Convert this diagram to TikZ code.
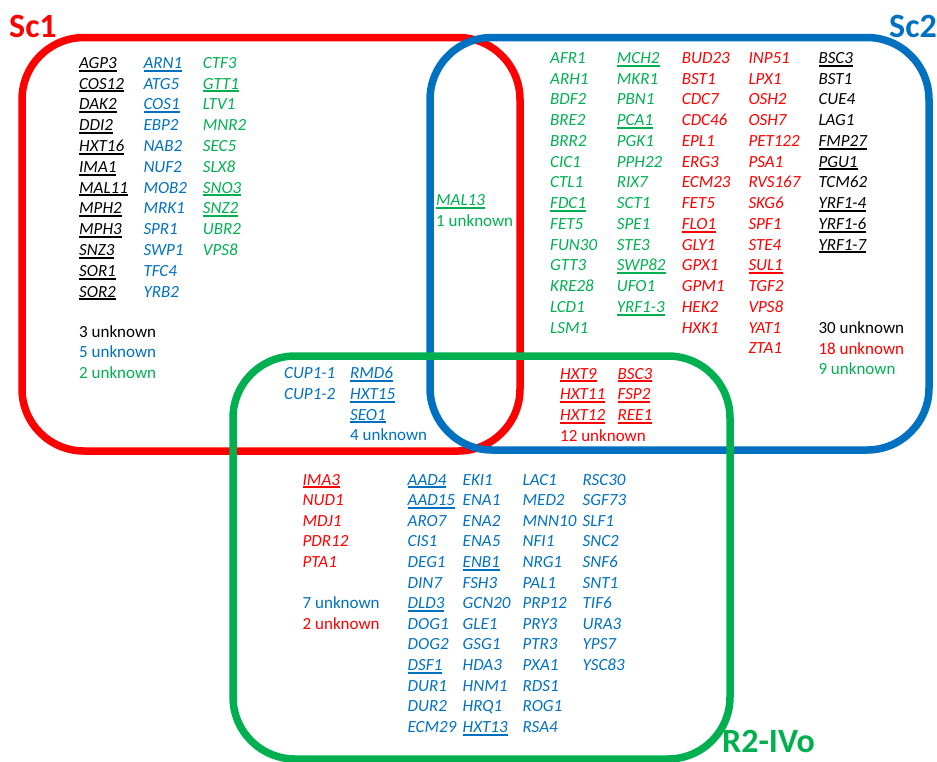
\documentclass[tikz,border=0pt]{standalone}
\usepackage{fontspec}
\setmainfont{Carlito}

\definecolor{vred}{HTML}{FF0000}
\definecolor{vblue}{HTML}{0070C0}
\definecolor{vgreen}{HTML}{00B050}

% underlined gene name: rule in the current text colour
\newcommand\ugene[1]{\setbox0=\hbox{#1}\rlap{\rule[-3.3pt]{\wd0}{2pt}}\box0}

\tikzset{
  setbox/.style={line width=7.5pt, rounded corners=62pt},
  gene/.style={anchor=base west, inner sep=0pt, font=\fontsize{17}{20}\selectfont\itshape},
  unk/.style={anchor=base west, inner sep=0pt, font=\fontsize{17}{20}\selectfont},
  settitle/.style={anchor=base west, inner sep=0pt, font=\fontsize{34}{40}\selectfont\bfseries},
}

% #1 name prefix, #2 colour, #3 x, #4 first baseline, #5 row step, #6 genes
\newcommand\genecol[6]{%
  \foreach \g [count=\i] in {#6} {
    \node[gene, text=#2] (#1-\i) at ({#3},{#4+(\i-1)*#5}) {\g};
  }}

\begin{document}
\begin{tikzpicture}[x=1pt,y=-1pt]
\useasboundingbox (0,0) rectangle (937,761);

% the three sets
\begin{scope}
\clip (0,0) rectangle (937,761);
\draw[setbox, vred]   (22,37.5) rectangle (520,451);
\draw[setbox, vblue]  (430,37.5) rectangle (929,450);
\draw[setbox, vgreen] (233,356) rectangle (730,759);
\end{scope}

% set titles
\node[settitle, text=vred]   (tsc1) at (9,37) {Sc1};
\node[settitle, text=vblue]  (tsc2) at (889,37) {Sc2};
\node[settitle, text=vgreen] (tr2)  at (722,752) {R2-IVo};

% Sc1 only
\genecol{sa}{black}{79}{68.3}{20.8}{\ugene{AGP3},\ugene{COS12},\ugene{DAK2},\ugene{DDI2},\ugene{HXT16},\ugene{IMA1},\ugene{MAL11},\ugene{MPH2},\ugene{MPH3},\ugene{SNZ3},\ugene{SOR1},\ugene{SOR2}}
\genecol{sb}{vblue}{143.3}{68.3}{20.8}{\ugene{ARN1},ATG5,\ugene{COS1},EBP2,NAB2,NUF2,MOB2,MRK1,SPR1,SWP1,TFC4,YRB2}
\genecol{sc}{vgreen}{202.7}{68.3}{20.8}{CTF3,\ugene{GTT1},LTV1,MNR2,SEC5,SLX8,\ugene{SNO3},\ugene{SNZ2},UBR2,VPS8}
\node[unk, text=black]  (sau) at (79,337)   {3 unknown};
\node[unk, text=vblue]  (sbu) at (79,357.6) {5 unknown};
\node[unk, text=vgreen] (scu) at (79,378.2) {2 unknown};

% Sc1 and Sc2
\node[gene, text=vgreen] (mal13) at (436,205.5) {\ugene{MAL13}};
\node[unk, text=vgreen]  (abu)   at (436,226)   {1 unknown};

% Sc2 only
\genecol{ga}{vgreen}{550}{63.3}{20.75}{AFR1,ARH1,BDF2,BRE2,BRR2,CIC1,CTL1,\ugene{FDC1},FET5,FUN30,GTT3,KRE28,LCD1,LSM1}
\genecol{gb}{vgreen}{616.7}{63.3}{20.75}{\ugene{MCH2},MKR1,PBN1,\ugene{PCA1},PGK1,PPH22,RIX7,SCT1,SPE1,STE3,\ugene{SWP82},UFO1,\ugene{YRF1-3}}
\genecol{ra}{vred}{681.7}{63.3}{20.75}{BUD23,BST1,CDC7,CDC46,EPL1,ERG3,ECM23,FET5,\ugene{FLO1},GLY1,GPX1,GPM1,HEK2,HXK1}
\genecol{rb}{vred}{748.3}{63.3}{20.75}{INP51,LPX1,OSH2,OSH7,PET122,PSA1,RVS167,SKG6,SPF1,STE4,\ugene{SUL1},TGF2,VPS8,YAT1,ZTA1}
\genecol{ka}{black}{818.3}{63.3}{20.75}{\ugene{BSC3},BST1,CUE4,LAG1,\ugene{FMP27},\ugene{PGU1},TCM62,\ugene{YRF1-4},\ugene{YRF1-6},\ugene{YRF1-7}}
\node[unk, text=black]  (kau) at (818.3,333.3) {30 unknown};
\node[unk, text=vred]   (rau) at (818.3,354)   {18 unknown};
\node[unk, text=vgreen] (gau) at (818.3,374.8) {9 unknown};

% Sc2 and R2-IVo
\genecol{bra}{vred}{560}{379}{20.8}{\ugene{HXT9},\ugene{HXT11},\ugene{HXT12}}
\genecol{brb}{vred}{617.5}{379}{20.8}{\ugene{BSC3},\ugene{FSP2},\ugene{REE1}}
\node[unk, text=vred] (bru) at (560,441) {12 unknown};

% Sc1 and R2-IVo
\genecol{ara}{vblue}{284}{378.5}{20.8}{CUP1-1,CUP1-2}
\genecol{arb}{vblue}{350}{378.5}{20.8}{\ugene{RMD6},\ugene{HXT15},\ugene{SEO1}}
\node[unk, text=vblue] (aru) at (350,440.5) {4 unknown};

% R2-IVo only
\genecol{ma}{vred}{302.5}{485}{20.6}{\ugene{IMA3},NUD1,MDJ1,PDR12,PTA1}
\node[unk, text=vblue] (mbu) at (302.5,608.3) {7 unknown};
\node[unk, text=vred]  (mau) at (302.5,629)   {2 unknown};
\genecol{mb}{vblue}{407.5}{485}{20.6}{\ugene{AAD4},\ugene{AAD15},ARO7,CIS1,DEG1,DIN7,\ugene{DLD3},DOG1,DOG2,\ugene{DSF1},DUR1,DUR2,ECM29}
\genecol{mc}{vblue}{462.5}{485}{20.6}{EKI1,ENA1,ENA2,ENA5,\ugene{ENB1},FSH3,GCN20,GLE1,GSG1,HDA3,HNM1,HRQ1,\ugene{HXT13}}
\genecol{md}{vblue}{522.5}{485}{20.6}{LAC1,MED2,MNN10,NFI1,NRG1,PAL1,PRP12,PRY3,PTR3,PXA1,RDS1,ROG1,RSA4}
\genecol{me}{vblue}{582.5}{485}{20.6}{RSC30,SGF73,SLF1,SNC2,SNF6,SNT1,TIF6,URA3,YPS7,YSC83}
\end{tikzpicture}
\end{document}
